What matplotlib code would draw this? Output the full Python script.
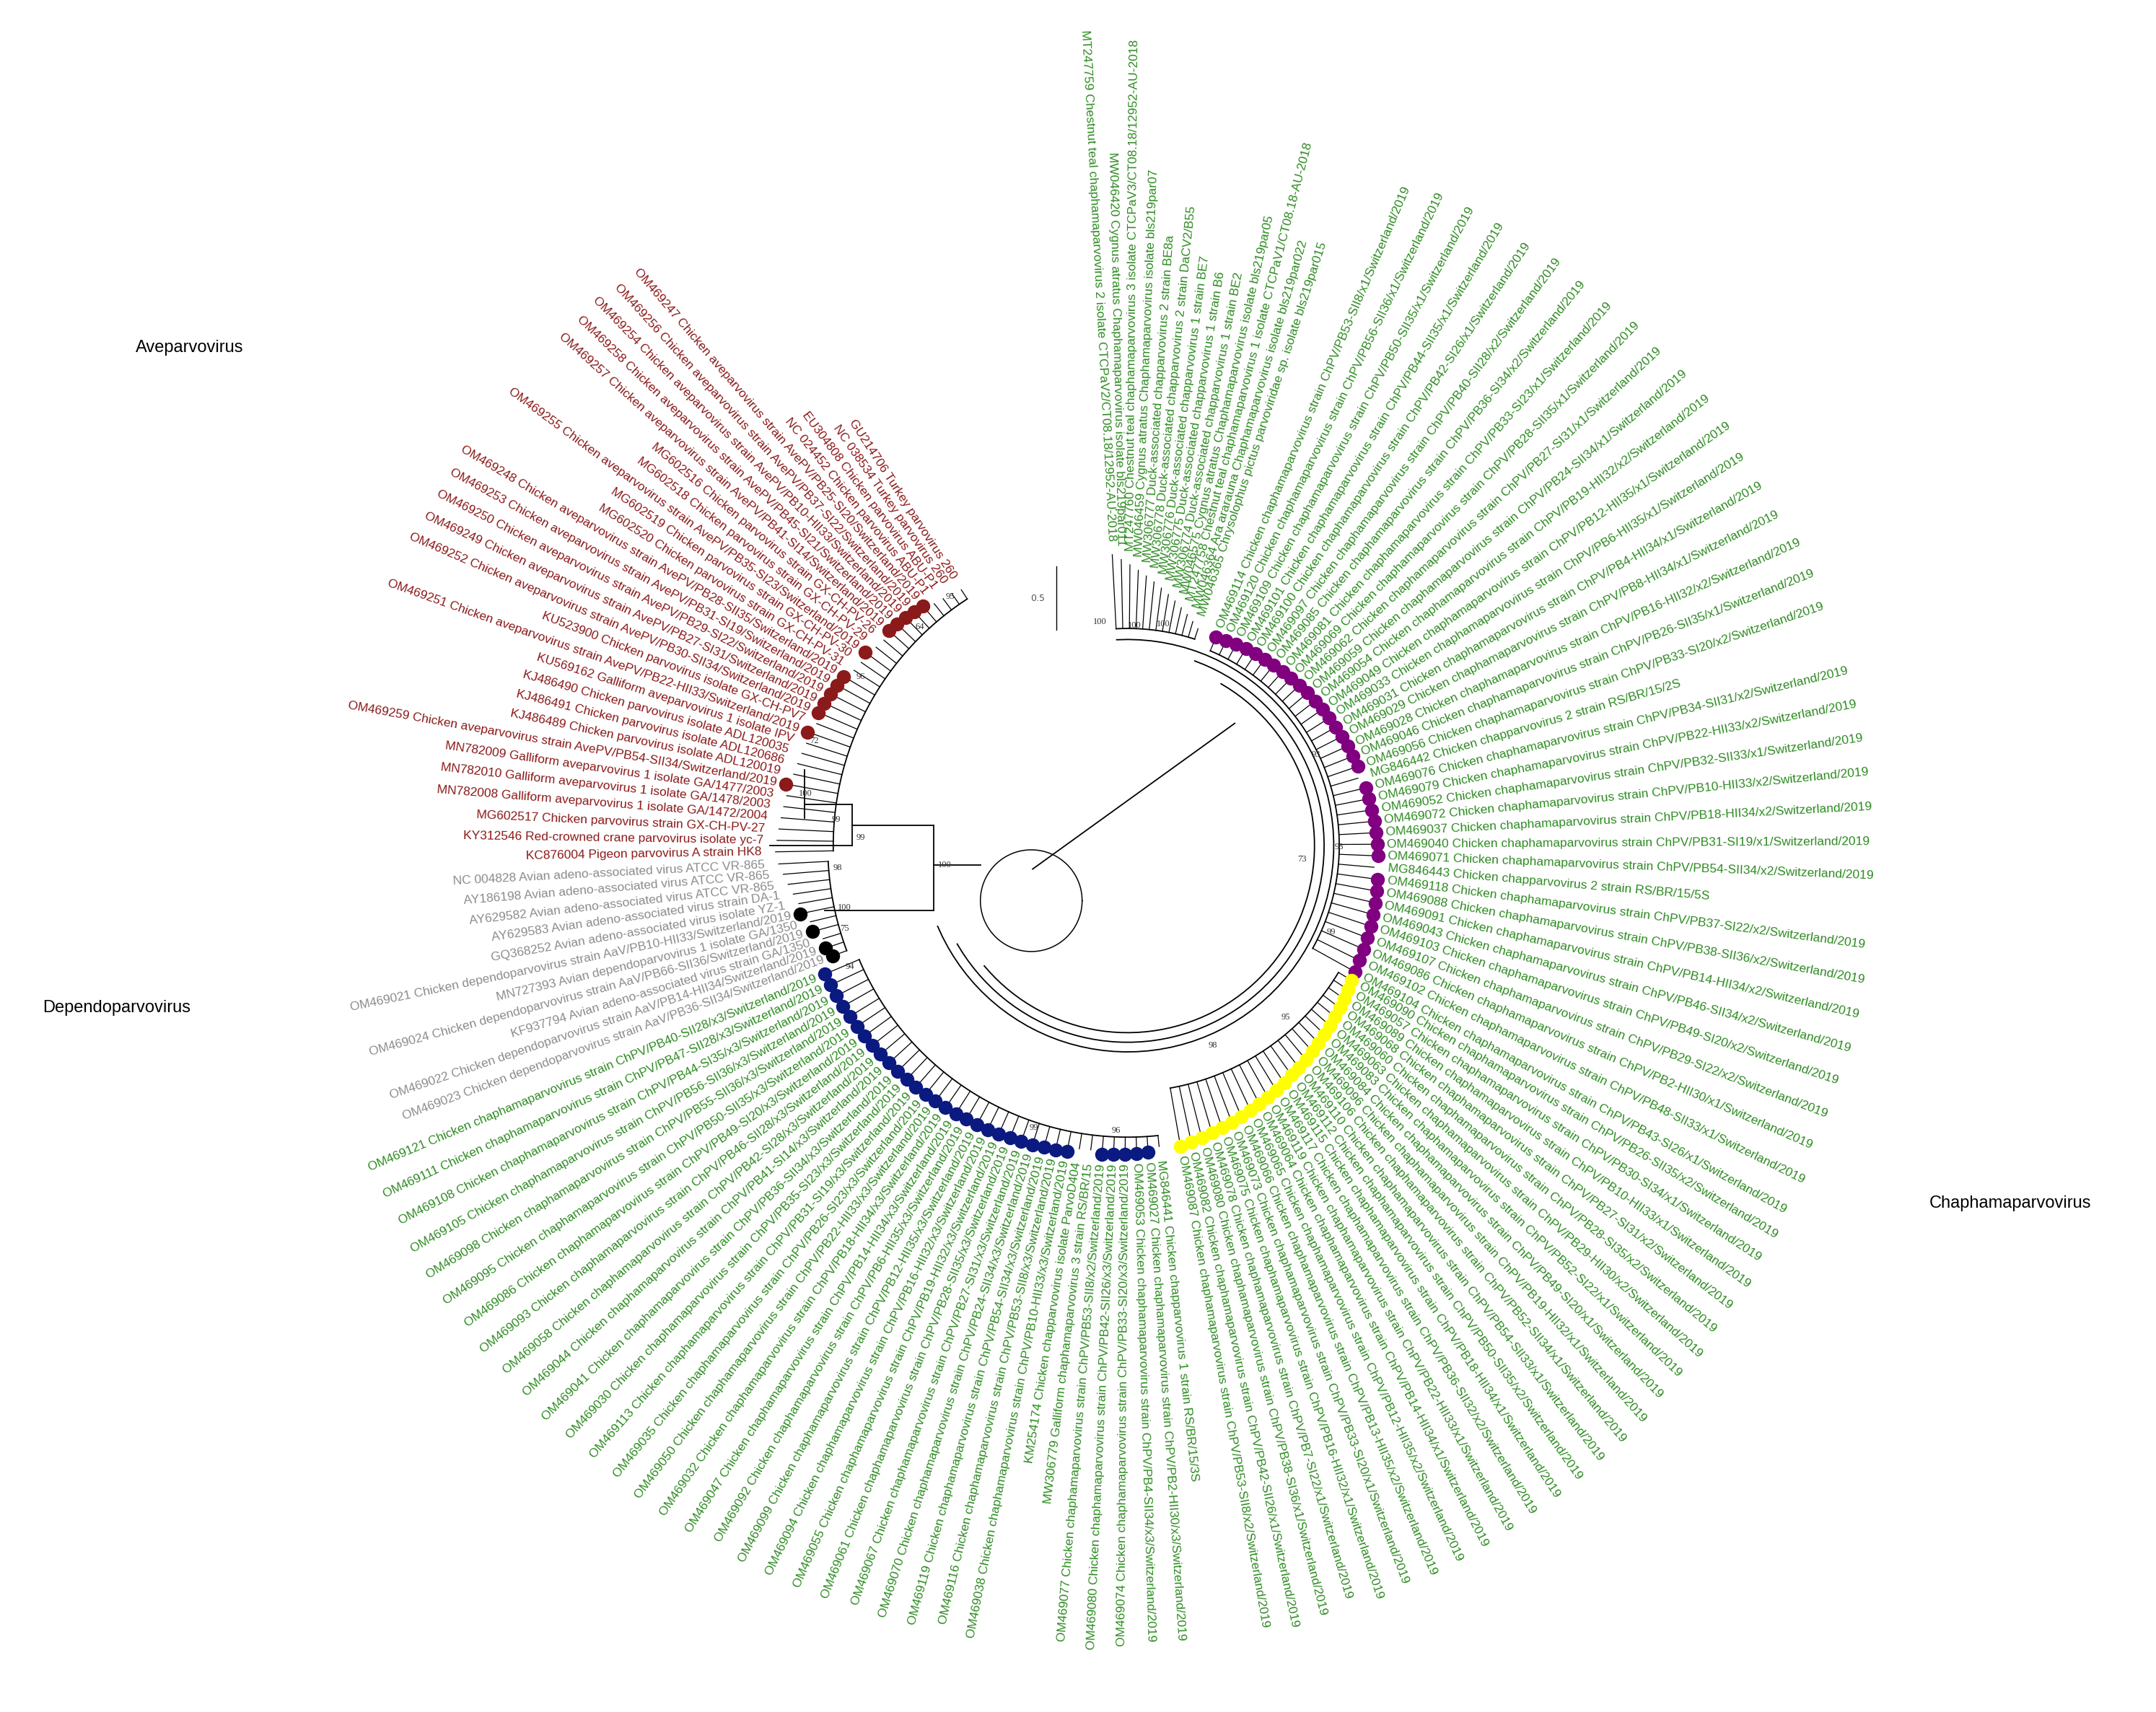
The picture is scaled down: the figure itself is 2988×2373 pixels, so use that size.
import numpy as np
import matplotlib
matplotlib.use("Agg")
import matplotlib.pyplot as plt

GREEN = "#2e8b22"; RED = "#8b1a1a"; GRAY = "#8c8c8c"
PURPLE = "#800080"; YELLOW = "#ffff00"; BLUE = "#0a1a80"; BLACK = "#000000"

grp_top = ["MT247759 Chestnut teal chaphamaparvovirus 2 isolate CTCPaV2/CT08.18/12952-AU-2018",
 "MW046420 Cygnus atratus Chaphamaparvovirus isolate bls219par011",
 "MT247760 Chestnut teal chaphamaparvovirus 3 isolate CTCPaV3/CT08.18/12952-AU-2018",
 "MW046459 Cygnus atratus Chaphamaparvovirus isolate bls219par07",
 "MW306777 Duck-associated chapparvovirus 2 strain BE8a",
 "MW306778 Duck-associated chapparvovirus 2 strain DaCV2/B55",
 "MW306776 Duck-associated chapparvovirus 1 strain BE7",
 "MW306775 Duck-associated chapparvovirus 1 strain B6",
 "MW306774 Duck-associated chapparvovirus 1 strain BE2",
 "MW046575 Cygnus atratus Chaphamaparvovirus isolate bls219par05",
 "MT247758 Chestnut teal chaphamaparvovirus 1 isolate CTCPaV1/CT08.18-AU-2018",
 "MW046364 Ara ararauna Chaphamaparvovirus isolate bls219par022",
 "MW046365 Chrysolophus pictus parvoviridae sp. isolate bls219par015"]

def chk(acc, strain):
    return f"{acc} Chicken chaphamaparvovirus strain ChPV/{strain}/Switzerland/2019"

purple_acc = ["OM469114","OM469120","OM469109","OM469101","OM469100","OM469097","OM469085","OM469081",
 "OM469069","OM469062","OM469059","OM469054","OM469049","OM469033","OM469031","OM469029","OM469028",
 "OM469046","OM469056","MG846442","OM469076","OM469079","OM469052","OM469072","OM469037","OM469040",
 "OM469071","MG846443","OM469118","OM469088","OM469091","OM469043","OM469103","OM469107","OM469086",
 "OM469102","OM469104"]
purple_str = ["PB53-SII8/x1","PB56-SII36/x1","PB50-SII35/x1","PB44-SII35/x1","PB42-SI26/x1","PB40-SII28/x2",
 "PB36-SI34/x2","PB33-SI23/x1","PB28-SII35/x1","PB27-SI31/x1","PB24-SII34/x1","PB19-HII32/x2",
 "PB12-HII35/x1","PB6-HII35/x1","PB4-HII34/x1","PB8-HII34/x1","PB16-HII32/x2","PB26-SII35/x1",
 "PB33-SI20/x2","", "PB34-SII31/x2","PB22-HII33/x2","PB32-SII33/x1","PB10-HII33/x2","PB18-HII34/x2",
 "PB31-SI19/x1","PB54-SII34/x2","","PB37-SI22/x2","PB38-SII36/x2","PB14-HII34/x2","PB46-SII34/x2",
 "PB49-SI20/x2","PB29-SI22/x2","PB2-HII30/x1","PB48-SII33/x1","PB43-SI26/x1"]
yellow_acc = ["OM469090","OM469057","OM469089","OM469068","OM469060","OM469063","OM469083","OM469084",
 "OM469096","OM469106","OM469110","OM469112","OM469115","OM469117","OM469119","OM469064","OM469065",
 "OM469066","OM469073","OM469075","OM469078","OM469080","OM469082","OM469087"]
yellow_str = ["PB26-SII35/x2","PB30-SI34/x1","PB10-HII33/x1","PB27-SI31/x2","PB28-SI35/x2","PB29-HII30/x2",
 "PB52-SI22/x1","PB49-SI20/x1","PB19-HII32/x1","PB52-SII34/x1","PB54-SII33/x1","PB50-SII35/x2",
 "PB18-HII34/x1","PB36-SII32/x2","PB22-HII33/x1","PB14-HII34/x1","PB12-HII35/x2","PB13-HII35/x2",
 "PB33-SI20/x1","PB16-HII32/x1","PB7-SI22/x1","PB38-SI36/x1","PB42-SII26/x1","PB53-SII8/x2"]
blue_acc = ["MG846441","OM469027","OM469053","OM469074","OM469080","OM469077","MW306779","KM254174",
 "OM469038","OM469116","OM469119","OM469070","OM469067","OM469061","OM469055","OM469094","OM469099",
 "OM469092","OM469047","OM469032","OM469050","OM469035","OM469113","OM469030","OM469041","OM469044",
 "OM469058","OM469093","OM469086","OM469095","OM469098","OM469105","OM469108","OM469111","OM469121"]
blue_str = ["","PB2-HII30/x3","PB4-SII34/x3","PB33-SI20/x3","PB42-SII26/x3","PB53-SII8/x2","","",
 "PB10-HII33/x3","PB53-SII8/x3","PB54-SII34/x3","PB24-SII34/x3","PB27-SI31/x3","PB28-SII35/x3",
 "PB19-HII32/x3","PB16-HII32/x3","PB12-HII35/x3","PB6-HII35/x3","PB14-HII34/x3","PB18-HII34/x3",
 "PB22-HII33/x3","PB26-SI23/x3","PB31-SI19/x3","PB35-SI23/x3","PB36-SII34/x3","PB41-SI14/x3",
 "PB42-SI28/x3","PB46-SII28/x3","PB49-SI20/x3","PB50-SII35/x3","PB55-SII36/x3","PB56-SII36/x3",
 "PB44-SI35/x3","PB47-SII28/x3","PB40-SII28/x3"]
special = {"MG846442": "MG846442 Chicken chapparvovirus 2 strain RS/BR/15/2S",
           "MG846443": "MG846443 Chicken chapparvovirus 2 strain RS/BR/15/5S",
           "MG846441": "MG846441 Chicken chapparvovirus 1 strain RS/BR/15/3S",
           "MW306779": "MW306779 Galliform chaphamaparvovirus 3 strain RS/BR/15",
           "KM254174": "KM254174 Chicken chapparvovirus isolate ParvoD404"}

gray_leaves = ["OM469023 Chicken dependoparvovirus strain AaV/PB36-SII34/Switzerland/2019",
 "OM469022 Chicken dependoparvovirus strain AaV/PB14-HII34/Switzerland/2019",
 "KF937794 Avian adeno-associated virus strain GA/1350",
 "OM469024 Chicken dependoparvovirus strain AaV/PB66-SII36/Switzerland/2019",
 "MN727393 Avian dependoparvovirus 1 isolate GA/1350",
 "OM469021 Chicken dependoparvovirus strain AaV/PB10-HII33/Switzerland/2019",
 "GQ368252 Avian adeno-associated virus isolate YZ-1",
 "AY629583 Avian adeno-associated virus strain DA-1",
 "AY629582 Avian adeno-associated virus ATCC VR-865",
 "AY186198 Avian adeno-associated virus ATCC VR-865",
 "NC 004828 Avian adeno-associated virus ATCC VR-865"]
gray_black = [1, 1, 0, 1, 0, 1, 0, 0, 0, 0, 0]

red_leaves = ["KC876004 Pigeon parvovirus A strain HK8",
 "KY312546 Red-crowned crane parvovirus isolate yc-7",
 "MG602517 Chicken parvovirus strain GX-CH-PV-27",
 "MN782008 Galliform aveparvovirus 1 isolate GA/1472/2004",
 "MN782010 Galliform aveparvovirus 1 isolate GA/1478/2003",
 "MN782009 Galliform aveparvovirus 1 isolate GA/1477/2003",
 "OM469259 Chicken aveparvovirus strain AvePV/PB54-SII34/Switzerland/2019",
 "KJ486489 Chicken parvovirus isolate ADL120019",
 "KJ486491 Chicken parvovirus isolate ADL120686",
 "KJ486490 Chicken parvovirus isolate ADL120035",
 "KU569162 Galliform aveparvovirus 1 isolate IPV",
 "OM469251 Chicken aveparvovirus strain AvePV/PB22-HII33/Switzerland/2019",
 "KU523900 Chicken parvovirus isolate GX-CH-PV7",
 "OM469252 Chicken aveparvovirus strain AvePV/PB30-SII34/Switzerland/2019",
 "OM469249 Chicken aveparvovirus strain AvePV/PB27-SI31/Switzerland/2019",
 "OM469250 Chicken aveparvovirus strain AvePV/PB29-SI22/Switzerland/2019",
 "OM469253 Chicken aveparvovirus strain AvePV/PB31-SI19/Switzerland/2019",
 "OM469248 Chicken aveparvovirus strain AvePV/PB28-SII35/Switzerland/2019",
 "MG602520 Chicken parvovirus strain GX-CH-PV-31",
 "MG602519 Chicken parvovirus strain GX-CH-PV-30",
 "OM469255 Chicken aveparvovirus strain AvePV/PB35-SI23/Switzerland/2019",
 "MG602518 Chicken parvovirus strain GX-CH-PV-29",
 "MG602516 Chicken parvovirus strain GX-CH-PV-26",
 "OM469257 Chicken aveparvovirus strain AvePV/PB41-SI14/Switzerland/2019",
 "OM469258 Chicken aveparvovirus strain AvePV/PB45-SI21/Switzerland/2019",
 "OM469254 Chicken aveparvovirus strain AvePV/PB10-HII33/Switzerland/2019",
 "OM469256 Chicken aveparvovirus strain AvePV/PB37-SI22/Switzerland/2019",
 "OM469247 Chicken aveparvovirus strain AvePV/PB25-SI20/Switzerland/2019",
 "NC 024452 Chicken parvovirus ABU-P1",
 "EU304808 Chicken parvovirus ABU-P1",
 "NC 038534 Turkey parvovirus 260",
 "GU214706 Turkey parvovirus 260"]

def names(accs, strs):
    return [special.get(a, chk(a, s)) for a, s in zip(accs, strs)]

CX, CY = 820, 615
FS = 12.5
fig = plt.figure(figsize=(29.88, 23.73), dpi=100)
ax = fig.add_axes([0, 0, 1, 1])
ax.set_xlim(0, 1568); ax.set_ylim(1245, 0); ax.set_aspect("equal"); ax.axis("off")

def pol(a, r):
    t = np.deg2rad(a)
    return CX + r*np.cos(t), CY - r*np.sin(t)

def arc(a0, a1, r, lw=1.3):
    t = np.linspace(a0, a1, 80)
    x, y = pol(t, r)
    ax.plot(x, y, color="black", lw=lw)

groups = [
 (grp_top, 93, 72, 218, 172, GREEN, [None]*len(grp_top)),
 (names(purple_acc, purple_str), 67, -29, 168, 192, GREEN,
  [None if a.startswith("MG") else PURPLE for a in purple_acc]),
 (names(yellow_acc, yellow_str), -31, -80, 193, 225, GREEN, [YELLOW]*len(yellow_acc)),
 (names(blue_acc, blue_str), -84, -157, 226, 242, GREEN,
  [None if a[:2] in ("MG", "MW", "KM") else BLUE for a in blue_acc]),
 (gray_leaves, -159.5, -177, 232, 260, GRAY, [BLACK if b else None for b in gray_black]),
 (red_leaves, -179, -237, 262, 228, RED,
  [RED if n.startswith("OM") else None for n in red_leaves]),
]

for labels, a0, a1, r0, r1, tc, mc in groups:
    n = len(labels)
    angs = np.linspace(a0, a1, n)
    rads = np.linspace(r0, r1, n)
    rin = min(r0, r1) - 14
    arc(a0, a1, rin)
    for a, r, lab, m in zip(angs, rads, labels, mc):
        x0, y0 = pol(a, rin); x1, y1 = pol(a, r - 6)
        ax.plot([x0, x1], [y0, y1], color="black", lw=0.9)
        if m:
            xm, ym = pol(a, r - 3)
            ax.plot(xm, ym, "o", ms=13, color=m, mec=m, zorder=5)
        xt, yt = pol(a, r + 4)
        an = ((a + 180) % 360) - 180
        if -90 <= an <= 90:
            rot, ha = an, "left"
        else:
            rot, ha = an + 180, "right"
        ax.text(xt, yt, lab, color=tc, fontsize=FS, rotation=rot, ha=ha, va="center",
                rotation_mode="anchor", family="Liberation Sans")

arc(93, -157, 150); arc(70, -150, 143)
arc(60, -140, 136)
ax.plot([751, 898], [632, 526], color="black", lw=1.3)
circ = np.linspace(0, 2*np.pi, 100)
ax.plot(750 + 37*np.cos(circ), 655 + 37*np.sin(circ), color="black", lw=1.1)
ax.plot([679, 713], [629, 629], color="black", lw=1.3)
ax.plot([679, 679], [600, 662], color="black", lw=1.3)
ax.plot([620, 679], [600, 600], color="black", lw=1.3)
ax.plot([600, 679], [662, 662], color="black", lw=1.3)
ax.plot([620, 620], [585, 615], color="black", lw=1.3)
ax.plot([585, 620], [585, 585], color="black", lw=1.3)
ax.plot([560, 620], [615, 615], color="black", lw=1.3)
ax.plot([585, 585], [560, 595], color="black", lw=1.3)
ax.plot([768, 768], [412, 458], color="black", lw=1.0)
ax.text(760, 435, "0.5", fontsize=9, color="#555555", ha="right", va="center")

boots = [("95", 691, 434), ("64", 669, 456), ("96", 626, 492), ("72", 592, 539), ("100", 586, 577),
         ("99", 608, 596), ("99", 626, 609), ("100", 687, 629), ("98", 609, 631), ("100", 614, 660),
         ("75", 614, 675), ("94", 618, 703), ("93", 957, 549), ("98", 974, 616), ("73", 947, 625),
         ("99", 968, 678), ("100", 800, 452), ("100", 825, 455), ("100", 846, 454), ("99", 752, 820),
         ("96", 812, 822), ("98", 882, 760), ("95", 935, 740)]
for t, x, y in boots:
    ax.text(x, y, t, fontsize=9, color="#333333", ha="center", va="center", family="Liberation Serif")

ax.text(138, 253, "Aveparvovirus", fontsize=17, ha="center", va="center", family="Liberation Sans")
ax.text(85, 733, "Dependoparvovirus", fontsize=17, ha="center", va="center", family="Liberation Sans")
ax.text(1462, 875, "Chaphamaparvovirus", fontsize=17, ha="center", va="center", family="Liberation Sans")

fig.savefig("out.png", dpi=100, facecolor="white")
